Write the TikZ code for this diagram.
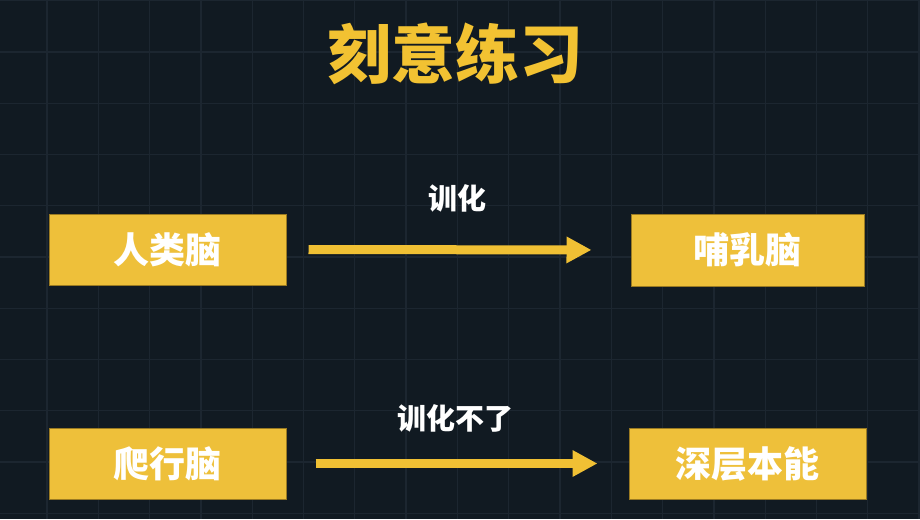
\documentclass[tikz,border=0pt]{standalone}
\usepackage{fontspec}
\newfontfamily\cjk{Noto Sans CJK SC}[BoldFont={Noto Sans CJK SC Black}]
\usetikzlibrary{arrows.meta}
\definecolor{bgc}{HTML}{111A22}
\definecolor{gridc}{HTML}{1C2630}
\definecolor{boxc}{HTML}{EEC03A}
\definecolor{boxedge}{HTML}{9A7A22}
\definecolor{titlec}{HTML}{F2C232}
\definecolor{arrowc}{HTML}{F0C034}
\tikzset{
  brainbox/.style={draw=boxedge, line width=1pt, fill=boxc, minimum width=237pt, minimum height=71pt, inner sep=0pt, text=white, font=\cjk\bfseries\fontsize{36}{36}\selectfont},
  flowarrow/.style={draw=arrowc, line width=9pt, -{Triangle[length=25pt,width=25pt]}},
  flowlabel/.style={text=white, inner sep=0pt, font=\cjk\bfseries\fontsize{29}{29}\selectfont},
  titletext/.style={text=titlec, inner sep=0pt, font=\cjk\bfseries\fontsize{64}{64}\selectfont}
}
\begin{document}
\begin{tikzpicture}[x=1pt,y=-1pt]
\fill[bgc] (0,0) rectangle (920,519);
\useasboundingbox (0,0) rectangle (920,519);
\foreach \i in {0,...,18} {
  \draw[gridc, line width=1.3pt] ({-4.3+51.3*\i},0) -- ({-4.3+51.3*\i},519);
}
\foreach \j in {0,...,10} {
  \draw[gridc, line width=1.3pt] (0,{0.75+51.25*\j}) -- (920,{0.75+51.25*\j});
}
\node[titletext] (title) at (455,54) {刻意练习};
\node[brainbox] (human) at (167.5,249.5) {人类脑};
\node[brainbox, minimum width=233pt, minimum height=72pt] (mammal) at (747.5,250) {哺乳脑};
\node[brainbox] (reptile) at (167.5,463.5) {爬行脑};
\node[brainbox] (instinct) at (747.5,463.5) {深层本能};
\draw[flowarrow, shorten <=22pt, shorten >=39pt] (human.east) -- (mammal.west);
\draw[flowarrow, shorten <=29pt, shorten >=31pt] (reptile.east) -- (instinct.west);
\node[flowlabel] (train) at (457,198) {训化};
\node[flowlabel] (notrain) at (455,418) {训化不了};
\end{tikzpicture}
\end{document}
